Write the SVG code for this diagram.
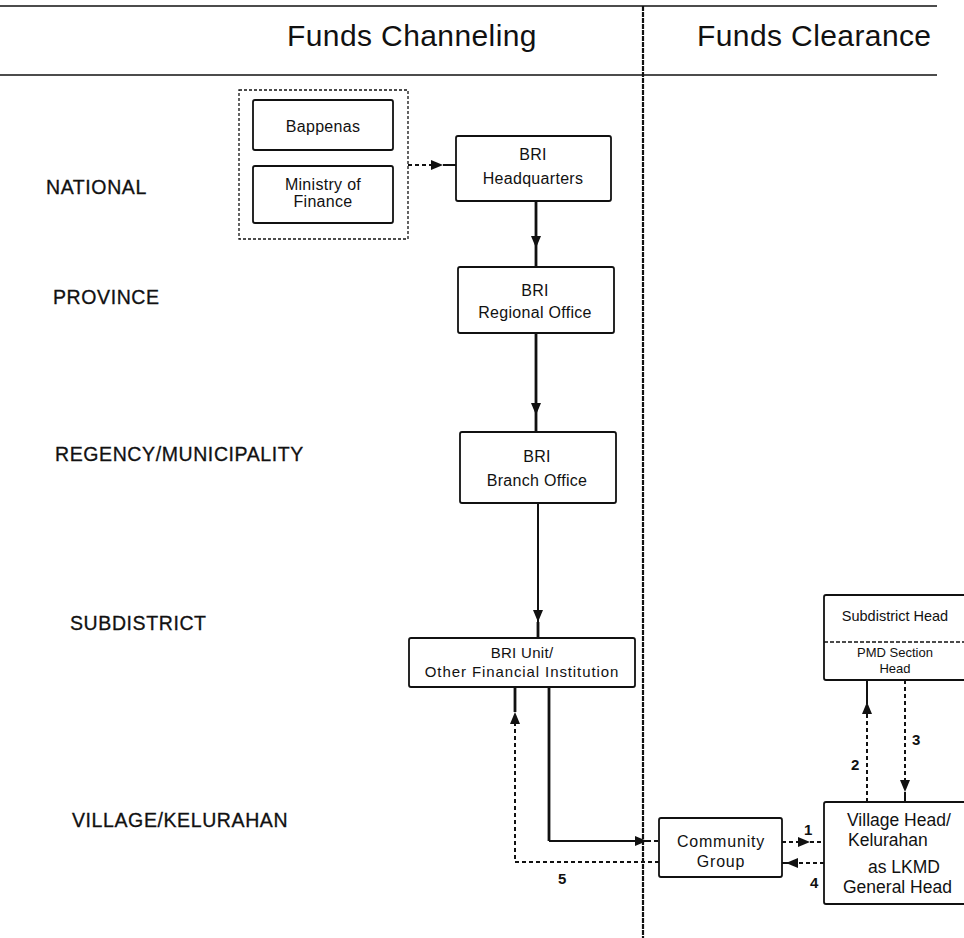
<svg xmlns="http://www.w3.org/2000/svg" width="964" height="938" viewBox="0 0 964 938">
<defs>
<style>
text{font-family:"Liberation Sans",Arial,sans-serif;fill:#111}
.hdr{font-size:30px;letter-spacing:0.4px}
.lvl{font-size:19.5px;letter-spacing:0.6px;stroke:#111;stroke-width:0.3px}
.lbl{font-size:16px;letter-spacing:0.3px;text-anchor:middle}
.sm{font-size:14.5px;text-anchor:middle}
.big{font-size:17.5px}
.num{font-size:15px;font-weight:bold}
.box{fill:#fff;stroke:#111;stroke-width:1.8}
.grp{fill:none;stroke:#111;stroke-width:1.3;stroke-dasharray:3 2}
.sol{fill:none;stroke:#111;stroke-width:2}
.thk{fill:none;stroke:#111;stroke-width:2.8}
.dsh{fill:none;stroke:#111;stroke-width:2;stroke-dasharray:4 3}
.rule{stroke:#111;stroke-width:1.6}
</style>
<marker id="ah" viewBox="0 0 12 10" refX="12" refY="5" markerWidth="12" markerHeight="10" markerUnits="userSpaceOnUse" orient="auto">
<path d="M0,0 L12,5 L0,10 z" fill="#111"/>
</marker>
</defs>
<rect width="964" height="938" fill="#fff"/>

<g id="frame">
<line class="rule" x1="0" y1="6" x2="937" y2="6"/>
<line class="rule" x1="0" y1="75" x2="937" y2="75"/>
<line x1="643" y1="6" x2="643" y2="938" stroke="#111" stroke-width="2.2" stroke-dasharray="5 1"/>
<text class="hdr" x="287" y="46">Funds Channeling</text>
<text class="hdr" x="697" y="46">Funds Clearance</text>
</g>

<g id="levels">
<text class="lvl" x="46" y="194">NATIONAL</text>
<text class="lvl" x="53" y="304">PROVINCE</text>
<text class="lvl" x="55" y="461">REGENCY/MUNICIPALITY</text>
<text class="lvl" x="70" y="630">SUBDISTRICT</text>
<text class="lvl" x="72" y="827">VILLAGE/KELURAHAN</text>
</g>

<g id="connectors">
<path class="dsh" d="M408,165 H443" marker-end="url(#ah)"/>
<path class="sol" d="M443,165 H456"/>
<path class="thk" d="M536,201 V248" marker-end="url(#ah)"/>
<path class="thk" d="M536,248 V267"/>
<path class="thk" d="M536,333 V415" marker-end="url(#ah)"/>
<path class="thk" d="M536,415 V432"/>
<path class="sol" d="M538,503 V622" marker-end="url(#ah)"/>
<path class="thk" d="M538,622 V638"/>
<path class="thk" d="M549,687 V841"/>
<path class="sol" d="M549,841 H647" marker-end="url(#ah)"/>
<path class="dsh" d="M647,841 H659"/>
<path class="dsh" d="M659,862 H515 V712" marker-end="url(#ah)"/>
<path class="thk" d="M515,712 V687"/>
<path class="dsh" d="M782,842 H810" marker-end="url(#ah)"/>
<path class="dsh" d="M810,842 H824"/>
<path class="dsh" d="M824,863 H786" marker-end="url(#ah)"/>
<path class="sol" d="M786,863 H782"/>
<path class="dsh" d="M867,802 V702" marker-end="url(#ah)"/>
<path class="sol" d="M867,702 V680"/>
<path class="dsh" d="M905,680 V792" marker-end="url(#ah)"/>
<path class="sol" d="M905,792 V802"/>
<text class="num" x="804" y="835">1</text>
<text class="num" x="851" y="770">2</text>
<text class="num" x="912" y="745">3</text>
<text class="num" x="810" y="888">4</text>
<text class="num" x="558" y="884">5</text>
</g>

<g id="central-group">
<rect class="grp" x="239" y="90" width="169" height="149"/>
</g>
<g id="bappenas">
<rect class="box" x="253" y="100" width="140" height="50" rx="2"/>
<text class="lbl" x="323" y="132">Bappenas</text>
</g>
<g id="ministry-of-finance">
<rect class="box" x="253" y="166" width="140" height="57" rx="2"/>
<text class="lbl" x="323" y="190">Ministry of</text>
<text class="lbl" x="323" y="207">Finance</text>
</g>
<g id="bri-headquarters">
<rect class="box" x="456" y="136" width="155" height="65" rx="2"/>
<text class="lbl" x="533" y="160">BRI</text>
<text class="lbl" x="533" y="184">Headquarters</text>
</g>
<g id="bri-regional-office">
<rect class="box" x="458" y="267" width="156" height="66" rx="2"/>
<text class="lbl" x="535" y="296">BRI</text>
<text class="lbl" x="535" y="318">Regional Office</text>
</g>
<g id="bri-branch-office">
<rect class="box" x="460" y="432" width="156" height="71" rx="2"/>
<text class="lbl" x="537" y="462">BRI</text>
<text class="lbl" x="537" y="486">Branch Office</text>
</g>
<g id="bri-unit">
<rect class="box" x="409" y="638" width="226" height="49" rx="2"/>
<text class="lbl" x="522" y="658" style="font-size:15px">BRI Unit/</text>
<text class="lbl" x="522" y="677" style="font-size:15px;letter-spacing:0.9px">Other Financial Institution</text>
</g>
<g id="community-group">
<rect class="box" x="659" y="818" width="123" height="59" rx="2"/>
<text class="lbl" x="721" y="847" style="letter-spacing:0.8px">Community</text>
<text class="lbl" x="721" y="867" style="letter-spacing:0.8px">Group</text>
</g>
<g id="subdistrict-head">
<rect class="box" x="824" y="595" width="142" height="85" rx="2"/>
<line x1="824" y1="642" x2="966" y2="642" stroke="#111" stroke-width="1.4" stroke-dasharray="4 2"/>
<text class="sm" x="895" y="621">Subdistrict Head</text>
<text class="sm" x="895" y="657" style="font-size:13px">PMD Section</text>
<text class="sm" x="895" y="673" style="font-size:13px">Head</text>
</g>
<g id="village-head">
<rect class="box" x="824" y="802" width="142" height="102" rx="2"/>
<text class="big" x="847" y="826">Village Head/</text>
<text class="big" x="848" y="846">Kelurahan</text>
<text class="big" x="868" y="873">as LKMD</text>
<text class="big" x="843" y="893">General Head</text>
</g>
</svg>
